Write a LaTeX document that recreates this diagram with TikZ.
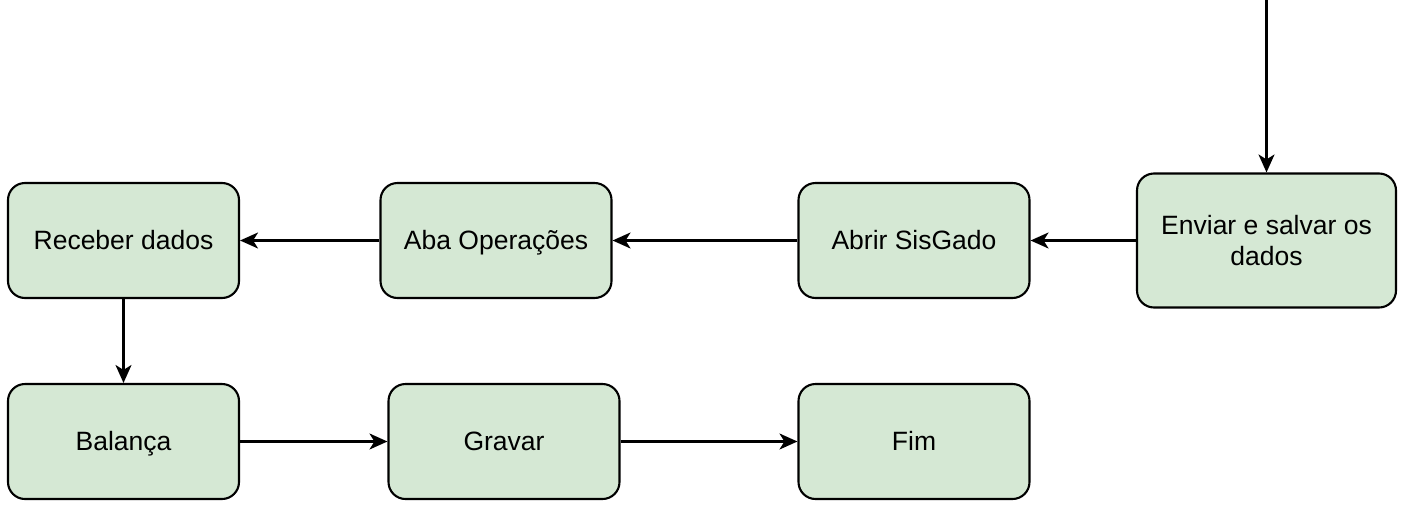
\documentclass[tikz,border=0pt]{standalone}
\usepackage{fontspec}
\setmainfont{Liberation Sans}
\usetikzlibrary{arrows.meta}
\definecolor{boxfill}{HTML}{D5E8D4}
\begin{document}
\begin{tikzpicture}[x=1pt,y=-1pt,
  box/.style={draw=black, fill=boxfill, line width=2.1pt, rounded corners=17pt,
    minimum width=231pt, minimum height=115pt, inner sep=0pt, align=center,
    text height=21pt, text depth=3pt,
    font=\fontsize{26.5}{31}\selectfont},
  conn/.style={draw=black, line width=2.1pt, -{Stealth[length=18pt,width=16pt,inset=5pt]}}]
\useasboundingbox (0,0) rectangle (1404,506);
\node[box] (rec) at (123.5,240.5) {Receber dados};
\node[box] (aba) at (496,240.5) {Aba Operações};
\node[box] (abr) at (914,240.5) {Abrir SisGado};
\node[box, minimum width=259pt, minimum height=134pt, text height=, text depth=] (env) at (1266.5,240.5) {Enviar e salvar os\\dados};
\node[box] (bal) at (123.5,441.5) {Balança};
\node[box] (gra) at (504,441.5) {Gravar};
\node[box] (fim) at (914,441.5) {Fim};
\coordinate (top) at (1266.5,0);
\draw[conn] (top) -- (env.north);
\draw[conn] (env.west) -- (abr.east);
\draw[conn] (abr.west) -- (aba.east);
\draw[conn] (aba.west) -- (rec.east);
\draw[conn] (rec.south) -- (bal.north);
\draw[conn] (bal.east) -- (gra.west);
\draw[conn] (gra.east) -- (fim.west);
\end{tikzpicture}
\end{document}
